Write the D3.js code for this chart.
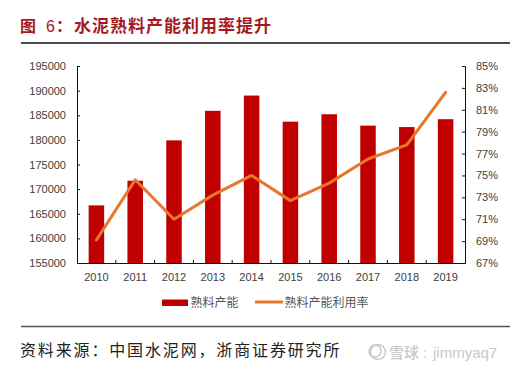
<!DOCTYPE html>
<html>
<head>
<meta charset="utf-8">
<script src="https://cdn.jsdelivr.net/npm/d3@7"></script>
<style>
  html, body { margin: 0; padding: 0; background: #fff; }
  svg { display: block; }
  text { font-family: "Liberation Sans", Arial, sans-serif; }
  .cjk { font-family: "Noto Sans CJK SC", sans-serif; }
</style>
</head>
<body>
<div id="chart"></div>
<script>
const years = [2010, 2011, 2012, 2013, 2014, 2015, 2016, 2017, 2018, 2019];
const capacity = [166700, 171700, 179900, 185900, 189000, 183700, 185200, 182900, 182600, 184200];
const utilization = [69.1, 74.6, 71.0, 73.2, 75.0, 72.7, 74.3, 76.5, 77.8, 82.6];
const leftTicks = [155000, 160000, 165000, 170000, 175000, 180000, 185000, 190000, 195000];
const rightTicks = [67, 69, 71, 73, 75, 77, 79, 81, 83, 85];

const W = 510, H = 367;
const RED = '#c00000', ORANGE = '#e8762d', TITLE = '#a5191f', TICK = '#404040', MARK = '#c8c8c8';
const m = { left: 77, right: 465, top: 66, bottom: 263 };

const svg = d3.select('#chart').append('svg').attr('width', W).attr('height', H);

// kop en regels
const titleText = (x, s, t) => svg.append('text').attr('class', 'cjk').attr('x', x).attr('y', 32)
  .attr('font-size', s).attr('font-weight', 700).attr('fill', TITLE).text(t);
titleText(20, 16, '图');
svg.append('text').attr('x', 46).attr('y', 32).attr('font-size', 16).attr('fill', TITLE).text('6');
titleText(56, 16, '：');
titleText(74, 17, '水泥熟料产能利用率提升').attr('letter-spacing', 1);
svg.append('line').attr('x1', 21).attr('x2', 510).attr('y1', 43).attr('y2', 43)
  .attr('stroke', '#111').attr('stroke-width', 1.3);
svg.append('line').attr('x1', 21).attr('x2', 510).attr('y1', 326.5).attr('y2', 326.5)
  .attr('stroke', '#555').attr('stroke-width', 1.5);

// schalen
const x = d3.scaleBand().domain(years).range([m.left, m.right]).paddingInner(0.6).paddingOuter(0.3);
const xOuter = d3.scaleBand().domain(years).range([m.left, m.right]);
const yLeft = d3.scaleLinear().domain([155000, 195000]).range([m.bottom, m.top]);
const yRight = d3.scaleLinear().domain([67, 85]).range([m.bottom, m.top]);

// balken
svg.append('g').selectAll('rect').data(years).join('rect')
  .attr('x', d => x(d))
  .attr('width', x.bandwidth())
  .attr('y', (d, i) => yLeft(capacity[i]))
  .attr('height', (d, i) => m.bottom - yLeft(capacity[i]))
  .attr('fill', RED);

// assen
const styleAxis = g => {
  g.selectAll('path,line').attr('stroke', '#111').attr('stroke-width', 1);
  g.selectAll('text').attr('font-size', 11).attr('fill', TICK)
    .attr('font-family', '"Liberation Sans", Arial, sans-serif');
};
svg.append('g').attr('transform', `translate(${m.left},0)`)
  .call(d3.axisLeft(yLeft).tickValues(leftTicks).tickFormat(d3.format('d')).tickSize(-3).tickPadding(11))
  .call(styleAxis);
svg.append('g').attr('transform', `translate(${m.right},0)`)
  .call(d3.axisRight(yRight).tickValues(rightTicks).tickFormat(d => d + '%').tickSize(-3).tickPadding(11))
  .call(styleAxis);
const xAxis = svg.append('g').attr('transform', `translate(0,${m.bottom})`)
  .call(d3.axisBottom(xOuter).tickSize(0).tickPadding(10))
  .call(styleAxis);
xAxis.selectAll('.sep').data(years.slice(1)).join('line').attr('class', 'sep')
  .attr('x1', d => xOuter(d)).attr('x2', d => xOuter(d))
  .attr('y1', 0).attr('y2', -3).attr('stroke', '#111');

// lijn
const line = d3.line()
  .x((d, i) => xOuter(years[i]) + xOuter.bandwidth() / 2)
  .y(d => yRight(d));
svg.append('path').datum(utilization).attr('d', line)
  .attr('fill', 'none').attr('stroke', ORANGE).attr('stroke-width', 3)
  .attr('stroke-linecap', 'round').attr('stroke-linejoin', 'round');

// legenda
svg.append('rect').attr('x', 162).attr('y', 299.5).attr('width', 26).attr('height', 6.5).attr('fill', RED);
svg.append('text').attr('class', 'cjk').attr('x', 190.5).attr('y', 306.5)
  .attr('font-size', 12).attr('fill', '#555').text('熟料产能');
svg.append('line').attr('x1', 255).attr('x2', 283).attr('y1', 302).attr('y2', 302)
  .attr('stroke', ORANGE).attr('stroke-width', 3);
svg.append('text').attr('class', 'cjk').attr('x', 284.5).attr('y', 306.5)
  .attr('font-size', 12).attr('fill', '#555').text('熟料产能利用率');

// bron
svg.append('text').attr('class', 'cjk').attr('x', 20).attr('y', 356)
  .attr('font-size', 16).attr('letter-spacing', 1.85).attr('fill', '#222')
  .text('资料来源：中国水泥网，浙商证券研究所');

// watermerk
const wm = svg.append('g').attr('fill', 'none').attr('stroke', MARK).attr('stroke-width', 1.5);
wm.append('circle').attr('cx', 378).attr('cy', 352).attr('r', 7.5);
wm.append('circle').attr('cx', 375).attr('cy', 351).attr('r', 6);
svg.append('text').attr('class', 'cjk').attr('x', 389).attr('y', 358)
  .attr('font-size', 15).attr('font-weight', 500).attr('fill', MARK).text('雪球');
svg.append('text').attr('x', 423).attr('y', 358)
  .attr('font-size', 15).attr('fill', MARK).text(':');
svg.append('text').attr('x', 433).attr('y', 358)
  .attr('font-size', 15).attr('fill', MARK).text('jimmyaq7');
</script>
</body>
</html>
